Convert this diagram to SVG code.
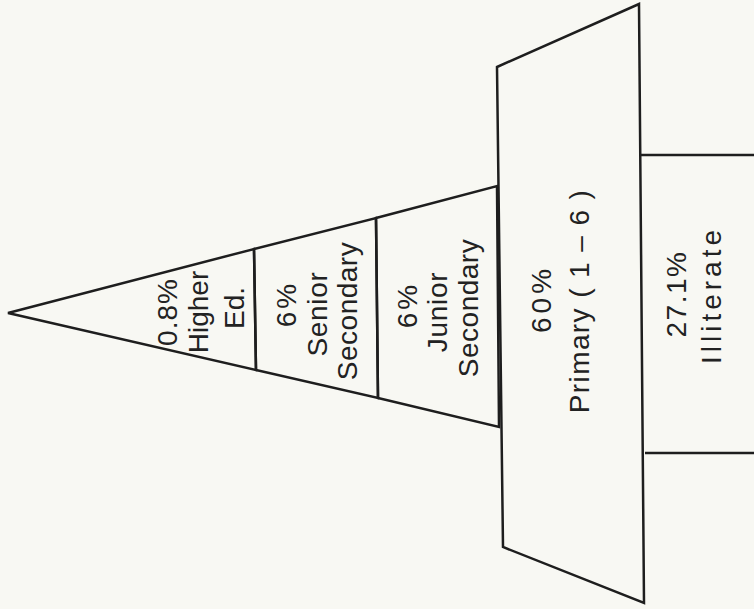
<svg xmlns="http://www.w3.org/2000/svg" width="754" height="609" viewBox="0 0 754 609">
  <style>
    .bg { fill: #f8f8f3; }
    .shape { fill: none; stroke: #1e1e1e; stroke-width: 2.5; stroke-linejoin: miter; }
    .lbl { font-family: "Liberation Sans", Arial, sans-serif; font-size: 28px; fill: #222; text-anchor: middle; }
  </style>
  <rect class="bg" x="0" y="0" width="754" height="609"/>
  <g id="higher-ed">
    <polygon class="shape" points="8,313 254,249 256,370"/>
    <text class="lbl" transform="translate(177,312) rotate(-90)" letter-spacing="1">0.8%</text>
    <text class="lbl" transform="translate(208,312) rotate(-90)">Higher</text>
    <text class="lbl" transform="translate(244,308) rotate(-90)">Ed.</text>
  </g>
  <g id="senior-secondary">
    <polygon class="shape" points="254,249 376,218 378,398 256,370"/>
    <text class="lbl" transform="translate(296,304) rotate(-90)" letter-spacing="3">6%</text>
    <text class="lbl" transform="translate(327,314) rotate(-90)" letter-spacing="0.7">Senior</text>
    <text class="lbl" transform="translate(357,311) rotate(-90)" letter-spacing="0.5">Secondary</text>
  </g>
  <g id="junior-secondary">
    <polygon class="shape" points="376,218 497,186 499,427 378,398"/>
    <text class="lbl" transform="translate(417,305) rotate(-90)" letter-spacing="3">6%</text>
    <text class="lbl" transform="translate(447,312) rotate(-90)" letter-spacing="0.7">Junior</text>
    <text class="lbl" transform="translate(478,308) rotate(-90)" letter-spacing="0.5">Secondary</text>
  </g>
  <g id="primary">
    <polygon class="shape" points="497,67 639,4 644,603 503,547"/>
    <text class="lbl" transform="translate(551,299) rotate(-90)" letter-spacing="4">60%</text>
    <text class="lbl" transform="translate(589,301) rotate(-90)" letter-spacing="1.4">Primary ( 1 – 6 )</text>
  </g>
  <g id="illiterate">
    <path class="shape" d="M640,155 L754,155 M645,453 L754,453"/>
    <text class="lbl" transform="translate(686,294) rotate(-90)" letter-spacing="1.5">27.1%</text>
    <text class="lbl" transform="translate(721,295) rotate(-90)" letter-spacing="4">Illiterate</text>
  </g>
  <g id="connectors"></g>
</svg>
